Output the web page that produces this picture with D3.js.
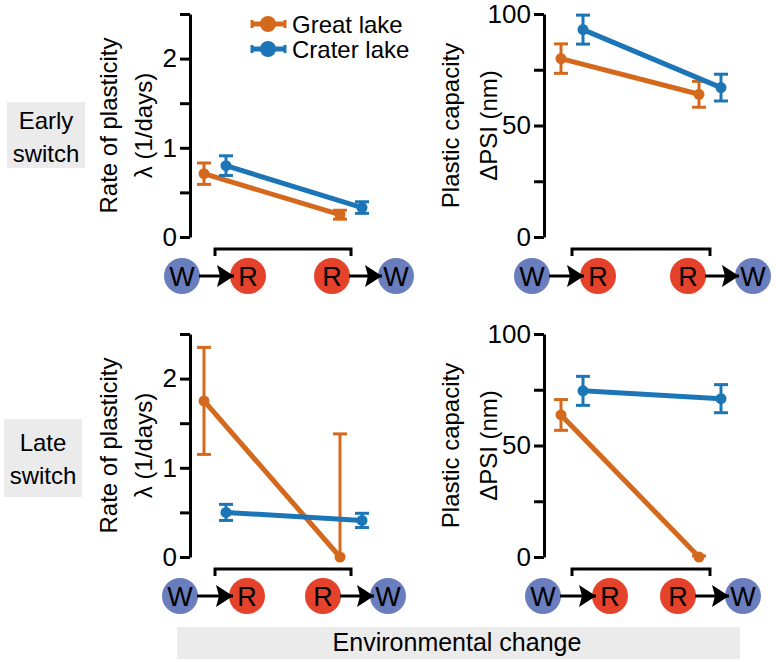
<!DOCTYPE html>
<html>
<head>
<meta charset="utf-8">
<script src="https://cdn.jsdelivr.net/npm/d3@7"></script>
<style>
  body { margin: 0; background: #fff; }
  text { font-family: "Liberation Sans", Arial, sans-serif; fill: #000; }
</style>
</head>
<body>
<svg id="chart" width="776" height="662"></svg>
<script>
const categories = ["W→R", "R→W"];
const seriesNames = ["Great lake", "Crater lake"];
const transitions = [["W", "R"], ["R", "W"]];

// rate of plasticity (1/days), mean and error
const rateEarlyGreat = [0.71, 0.25];
const rateEarlyGreatErr = [0.12, 0.05];
const rateEarlyCrater = [0.80, 0.33];
const rateEarlyCraterErr = [0.11, 0.065];
const rateLateGreat = [1.75, 0];
const rateLateGreatErr = [0.6, 1.38];
const rateLateCrater = [0.50, 0.41];
const rateLateCraterErr = [0.09, 0.08];

// plastic capacity, delta PSI (nm)
const capEarlyGreat = [80, 64];
const capEarlyGreatErr = [6.6, 5.8];
const capEarlyCrater = [93, 67];
const capEarlyCraterErr = [6.5, 6];
const capLateGreat = [63.7, 0];
const capLateGreatErr = [6.9, 0.5];
const capLateCrater = [74.5, 71];
const capLateCraterErr = [6.5, 6.3];

const rateTicks = [0, 0.5, 1, 1.5, 2, 2.5];
const rateTickLabels = [0, 1, 2];
const capTicks = [0, 25, 50, 75, 100];
const capTickLabels = [0, 50, 100];

const rowLabels = [["Early", "switch"], ["Late", "switch"]];
const rateTitle = ["Rate of plasticity", "λ (1/days)"];
const capTitle = ["Plastic capacity", "ΔPSI (nm)"];
const footerLabel = "Environmental change";

const COLORS = { great: "#d4691d", crater: "#1c75b6", W: "#6a7dbd", R: "#e5422b", box: "#ebebeb" };
const FONT = 24;
const DODGE = 11;
const R_ICON = 18;

const cols = [
  { axisX: 190, range: [215, 351], titleX: [108, 143], domain: [0, 2.5], ticks: rateTicks, labels: rateTickLabels, title: rateTitle },
  { axisX: 544, range: [572, 710], titleX: [450, 488], domain: [0, 100], ticks: capTicks, labels: capTickLabels, title: capTitle }
];
const rows = [
  { y0: 237, y1: 14, box: [7, 102, 78, 66], lineY: [120, 153] },
  { y0: 557, y1: 334, box: [4, 419, 78, 78], lineY: [442, 475] }
];
const panelData = [
  [
    { great: [rateEarlyGreat, rateEarlyGreatErr], crater: [rateEarlyCrater, rateEarlyCraterErr] },
    { great: [capEarlyGreat, capEarlyGreatErr], crater: [capEarlyCrater, capEarlyCraterErr] }
  ],
  [
    { great: [rateLateGreat, rateLateGreatErr], crater: [rateLateCrater, rateLateCraterErr] },
    { great: [capLateGreat, capLateGreatErr], crater: [capLateCrater, capLateCraterErr] }
  ]
];
// horizontal offsets of the W/R icons from each category, per panel
const iconOffsets = [
  [[[-33, 33], [-19, 45]], [[-40, 26], [-22, 43]]],
  [[[-35, 32], [-28, 37]], [[-29, 38], [-32, 33]]]
];

const svg = d3.select("#chart");

svg.append("defs").append("marker")
  .attr("id", "arrow")
  .attr("viewBox", "0 0 17 22")
  .attr("refX", 17).attr("refY", 11)
  .attr("markerWidth", 17).attr("markerHeight", 22)
  .attr("markerUnits", "userSpaceOnUse")
  .attr("orient", "auto")
  .append("path")
  .attr("d", "M0,0L17,11L0,22L3,11Z")
  .attr("fill", "#000");

// row labels
rows.forEach((row, ri) => {
  const [bx, by, bw, bh] = row.box;
  svg.append("rect")
    .attr("x", bx).attr("y", by).attr("width", bw).attr("height", bh)
    .attr("fill", COLORS.box);
  rowLabels[ri].forEach((t, i) => {
    svg.append("text")
      .attr("x", bx + bw / 2).attr("y", row.lineY[i])
      .attr("text-anchor", "middle").attr("dominant-baseline", "central")
      .attr("font-size", FONT)
      .text(t);
  });
});

function drawSeries(g, x, y, values, errs, color, dx) {
  const pts = values.map((v, i) => ({ x: x(categories[i]) + dx, v, e: errs[i] }));

  g.append("path")
    .datum(pts)
    .attr("fill", "none")
    .attr("stroke", color)
    .attr("stroke-width", 5)
    .attr("d", d3.line().x(d => d.x).y(d => y(d.v)));

  const eb = g.selectAll(null).data(pts).join("g").attr("stroke", color).attr("stroke-width", 3);
  eb.append("line")
    .attr("x1", d => d.x).attr("x2", d => d.x)
    .attr("y1", d => y(d.v - d.e)).attr("y2", d => y(d.v + d.e));
  eb.append("line")
    .attr("x1", d => d.x - 7).attr("x2", d => d.x + 7)
    .attr("y1", d => y(d.v + d.e)).attr("y2", d => y(d.v + d.e));
  eb.filter(d => d.v - d.e >= 0).append("line")
    .attr("x1", d => d.x - 7).attr("x2", d => d.x + 7)
    .attr("y1", d => y(d.v - d.e)).attr("y2", d => y(d.v - d.e));

  g.selectAll(null).data(pts).join("circle")
    .attr("cx", d => d.x).attr("cy", d => y(d.v))
    .attr("r", 5.5)
    .attr("fill", color);
}

rows.forEach((row, ri) => {
  cols.forEach((col, ci) => {
    const g = svg.append("g");
    const x = d3.scalePoint().domain(categories).range(col.range);
    const y = d3.scaleLinear().domain(col.domain).range([row.y0, row.y1]).clamp(true);

    const axis = d3.axisLeft(y)
      .tickValues(col.ticks)
      .tickSize(10)
      .tickSizeOuter(0)
      .tickPadding(3)
      .tickFormat(v => col.labels.includes(v) ? d3.format("d")(v) : "");

    const ag = g.append("g")
      .attr("transform", `translate(${col.axisX},0)`)
      .call(axis);
    ag.select(".domain").attr("stroke-width", 3).attr("stroke", "#000");
    ag.selectAll(".tick line").attr("stroke-width", 3).attr("stroke", "#000");
    ag.selectAll(".tick text")
      .attr("font-size", 26)
      .attr("font-family", '"Liberation Sans", Arial, sans-serif')
      .attr("fill", "#000");

    const midY = (row.y0 + row.y1) / 2;
    col.title.forEach((t, i) => {
      g.append("text")
        .attr("transform", `translate(${col.titleX[i]},${midY}) rotate(-90)`)
        .attr("text-anchor", "middle").attr("dominant-baseline", "central")
        .attr("font-size", FONT)
        .text(t);
    });

    // bracket below the axis
    const by = row.y0 + 12;
    const [xa, xb] = col.range;
    g.append("path")
      .attr("d", `M${xa},${by + 7}V${by}H${xb}V${by + 7}`)
      .attr("fill", "none").attr("stroke", "#000").attr("stroke-width", 3);

    // transition icons
    const iy = row.y0 + 39;
    transitions.forEach((pair, k) => {
      const cx = x(categories[k]);
      const xs = iconOffsets[ri][ci][k].map(o => cx + o);
      pair.forEach((lab, j) => {
        g.append("circle")
          .attr("cx", xs[j]).attr("cy", iy).attr("r", R_ICON)
          .attr("fill", COLORS[lab]);
        g.append("text")
          .attr("x", xs[j]).attr("y", iy + 1)
          .attr("text-anchor", "middle").attr("dominant-baseline", "central")
          .attr("font-size", 27)
          .text(lab);
      });
      g.append("line")
        .attr("x1", xs[0] + R_ICON - 1).attr("x2", xs[1] - R_ICON + 4)
        .attr("y1", iy).attr("y2", iy)
        .attr("stroke", "#000").attr("stroke-width", 3)
        .attr("marker-end", "url(#arrow)");
    });

    const d = panelData[ri][ci];
    drawSeries(g, x, y, d.great[0], d.great[1], COLORS.great, -DODGE);
    drawSeries(g, x, y, d.crater[0], d.crater[1], COLORS.crater, DODGE);
  });
});

// legend
const legend = svg.append("g");
[COLORS.great, COLORS.crater].forEach((c, i) => {
  const ly = 24 + i * 25;
  legend.append("line")
    .attr("x1", 252).attr("x2", 285).attr("y1", ly).attr("y2", ly)
    .attr("stroke", c).attr("stroke-width", 5);
  [252, 285].forEach(ex => legend.append("line")
    .attr("x1", ex).attr("x2", ex).attr("y1", ly - 4).attr("y2", ly + 4)
    .attr("stroke", c).attr("stroke-width", 3));
  legend.append("circle").attr("cx", 268).attr("cy", ly).attr("r", 8).attr("fill", c);
  legend.append("text")
    .attr("x", 292).attr("y", ly)
    .attr("dominant-baseline", "central")
    .attr("font-size", FONT)
    .text(seriesNames[i]);
});

// footer
svg.append("rect")
  .attr("x", 177).attr("y", 627).attr("width", 563).attr("height", 32)
  .attr("fill", COLORS.box);
svg.append("text")
  .attr("x", 457).attr("y", 642)
  .attr("text-anchor", "middle").attr("dominant-baseline", "central")
  .attr("font-size", 25)
  .text(footerLabel);
</script>
</body>
</html>
